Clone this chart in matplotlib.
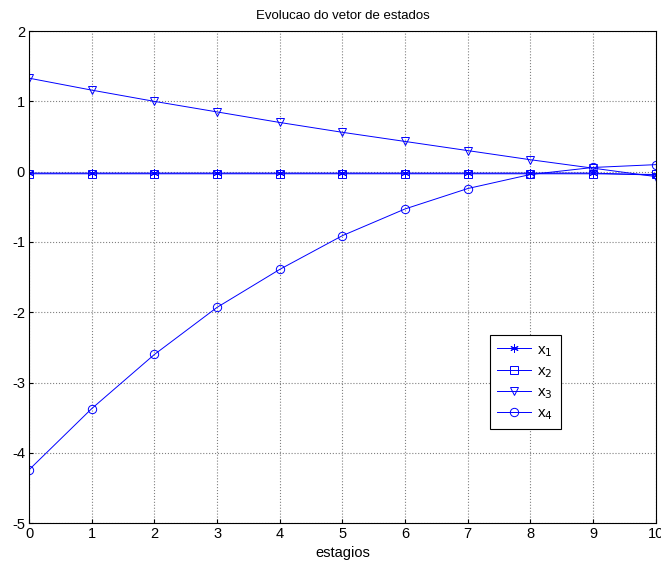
import numpy as np
import matplotlib
matplotlib.use("Agg")
import matplotlib.pyplot as plt

# estagios and state values
k = np.arange(0, 11)
x1 = [-0.02, -0.02, -0.02, -0.02, -0.02, -0.02, -0.02, -0.02, -0.02, -0.02, -0.05]
x2 = [-0.03, -0.03, -0.03, -0.03, -0.03, -0.03, -0.03, -0.03, -0.03, -0.03, -0.04]
x3 = [1.33, 1.16, 1.00, 0.85, 0.70, 0.56, 0.43, 0.30, 0.17, 0.05, -0.07]
x4 = [-4.24, -3.37, -2.60, -1.93, -1.39, -0.91, -0.53, -0.24, -0.04, 0.06, 0.10]

plt.rcParams['font.family'] = ['Liberation Sans', 'DejaVu Sans']
plt.rcParams['font.size'] = 10
plt.rcParams['axes.unicode_minus'] = False

fig = plt.figure(figsize=(6.61, 5.65), dpi=100)
ax = fig.add_axes([0.044, 0.074, 0.948, 0.871])

blue = (0, 0, 1)
kw = dict(color=blue, lw=0.7, mfc='none', mec=blue, mew=0.7, ms=6)
ax.plot(k, x1, marker=(6, 2, 0), label='x$_1$', **kw)
ax.plot(k, x2, marker='s', label='x$_2$', **kw)
ax.plot(k, x3, marker='v', label='x$_3$', **kw)
ax.plot(k, x4, marker='o', label='x$_4$', **kw)

ax.set_xlim(0, 10)
ax.set_ylim(-5, 2)
ax.set_xticks(range(0, 11))
ax.set_yticks(range(-5, 3))
ax.grid(True, linestyle=':', color='0.5', lw=0.8)
ax.tick_params(direction='in', length=3, labelsize=10.5, pad=3)
for s in ax.spines.values():
    s.set_linewidth(0.8)

ax.set_title('Evolucao do vetor de estados', fontsize=9.5, pad=9)
ax.set_xlabel('estagios', fontsize=10.5, labelpad=3)

leg = ax.legend(loc='upper left', bbox_to_anchor=(0.735, 0.382), fancybox=False,
                framealpha=1, edgecolor='black', fontsize=11, handlelength=2.2,
                handletextpad=0.4, borderpad=0.5, labelspacing=0.35,
                borderaxespad=0)
leg.get_frame().set_linewidth(0.8)

fig.savefig('out.png', dpi=100)
